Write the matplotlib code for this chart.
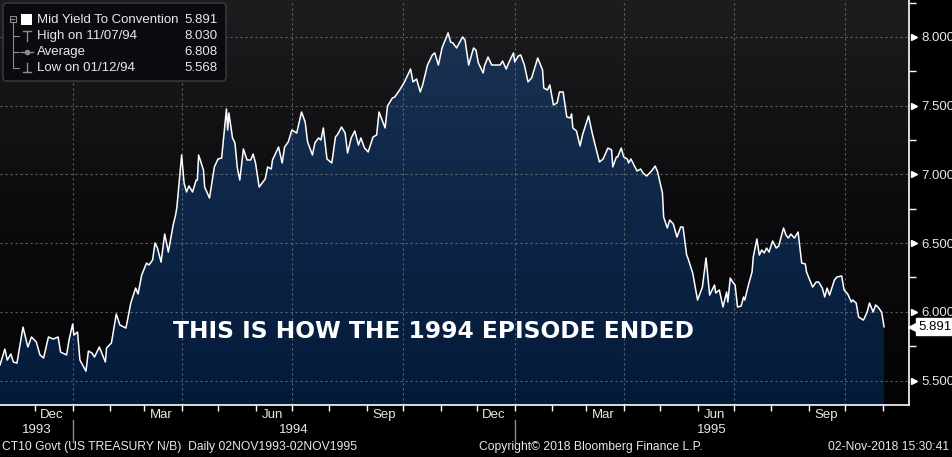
import numpy as np
import pandas as pd
import matplotlib
matplotlib.use("Agg")
import matplotlib.pyplot as plt
import matplotlib.dates as mdates
from matplotlib import font_manager
from matplotlib.patches import FancyBboxPatch, Polygon, Rectangle
from matplotlib.colors import LinearSegmentedColormap

'''
  CT10 Govt daily yield, 02NOV1993-02NOV1995, Bloomberg style
  values read off the screenshot (day = calendar days after 02NOV1993)
'''
START = pd.Timestamp("1993-11-02")

day_offset = [
    0, 4, 6, 9, 11, 14, 19, 23, 26, 30, 33, 36, 40, 44, 48, 50, 55, 57, 60, 61,
    64, 66, 71, 73, 76, 78, 82, 87, 88, 92, 96, 99, 104, 108, 112, 114, 117, 121, 123, 126,
    128, 130, 133, 136, 139, 143, 145, 146, 150, 152, 154, 156, 159, 162, 163, 164, 168, 169, 173, 177,
    180, 183, 187, 188, 189, 192, 194, 196, 198, 201, 204, 207, 209, 211, 214, 219, 221, 224, 225, 230,
    233, 235, 238, 241, 245, 249, 252, 254, 258, 260, 263, 265, 267, 270, 274, 277, 279, 282, 285, 287,
    290, 293, 296, 298, 301, 304, 308, 311, 313, 318, 320, 324, 326, 330, 334, 339, 341, 344, 347, 349,
    353, 357, 359, 362, 365, 370, 372, 374, 377, 382, 384, 387, 391, 393, 395, 399, 400, 403, 406, 413,
    415, 418, 420, 424, 425, 428, 430, 433, 436, 439, 444, 448, 449, 452, 454, 457, 460, 462, 465, 468,
    471, 472, 473, 476, 479, 481, 486, 489, 491, 495, 498, 502, 505, 506, 509, 510, 513, 515, 518, 519,
    521, 526, 529, 531, 534, 538, 541, 543, 547, 548, 551, 553, 556, 559, 562, 564, 567, 568, 572, 576,
    580, 583, 586, 590, 591, 594, 597, 600, 601, 603, 605, 607, 609, 612, 614, 615, 618, 621, 622, 625,
    627, 629, 631, 633, 635, 638, 641, 643, 647, 649, 651, 653, 656, 659, 662, 665, 666, 671, 674, 676,
    679, 681, 683, 685, 689, 691, 695, 697, 700, 703, 704, 707, 709, 713, 716, 718, 721, 723, 725, 728,
    730,
]
yield_pct = [
    5.613, 5.729, 5.649, 5.693, 5.635, 5.627, 5.889, 5.744, 5.817, 5.780, 5.686, 5.664, 5.817, 5.802, 5.817, 5.707, 5.686, 5.795, 5.911, 5.831,
    5.853, 5.649, 5.568, 5.715, 5.700, 5.671, 5.744, 5.635, 5.737, 5.773, 5.984, 5.904, 5.882, 6.064, 6.173, 6.130, 6.268, 6.355, 6.341, 6.377,
    6.501, 6.464, 6.362, 6.566, 6.435, 6.632, 6.705, 6.756, 7.141, 6.937, 6.872, 6.916, 6.872, 6.959, 6.959, 7.141, 7.032, 6.908, 6.828, 7.054,
    7.112, 7.119, 7.476, 7.323, 7.447, 7.265, 7.229, 7.047, 6.959, 7.185, 7.105, 7.105, 7.148, 7.083, 6.908, 6.967, 7.054, 7.039, 7.105, 7.199,
    7.083, 7.199, 7.236, 7.323, 7.301, 7.454, 7.381, 7.236, 7.141, 7.229, 7.265, 7.250, 7.338, 7.112, 7.083, 7.272, 7.294, 7.345, 7.301, 7.156,
    7.265, 7.316, 7.214, 7.265, 7.192, 7.163, 7.272, 7.287, 7.454, 7.338, 7.498, 7.556, 7.563, 7.614, 7.673, 7.767, 7.673, 7.694, 7.600, 7.651,
    7.796, 7.869, 7.884, 7.796, 7.920, 8.030, 7.964, 7.956, 7.920, 8.000, 7.978, 7.796, 7.920, 7.905, 7.811, 7.738, 7.789, 7.854, 7.796, 7.796,
    7.825, 7.767, 7.811, 7.884, 7.818, 7.862, 7.869, 7.796, 7.673, 7.702, 7.847, 7.760, 7.629, 7.614, 7.651, 7.505, 7.520, 7.600, 7.600, 7.418,
    7.411, 7.440, 7.338, 7.316, 7.207, 7.287, 7.425, 7.301, 7.229, 7.090, 7.112, 7.192, 7.178, 7.054, 7.127, 7.127, 7.192, 7.127, 7.112, 7.083,
    7.112, 7.025, 7.039, 7.010, 6.988, 7.025, 7.061, 7.018, 6.865, 6.690, 6.610, 6.668, 6.639, 6.544, 6.617, 6.617, 6.413, 6.392, 6.282, 6.086,
    6.180, 6.392, 6.122, 6.195, 6.137, 6.159, 6.035, 6.144, 6.071, 6.246, 6.217, 6.195, 6.035, 6.042, 6.108, 6.086, 6.195, 6.290, 6.399, 6.530,
    6.413, 6.450, 6.428, 6.464, 6.435, 6.515, 6.464, 6.479, 6.610, 6.559, 6.537, 6.566, 6.537, 6.581, 6.355, 6.348, 6.290, 6.180, 6.217, 6.217,
    6.173, 6.108, 6.173, 6.122, 6.231, 6.253, 6.261, 6.159, 6.130, 6.071, 6.086, 6.064, 5.962, 5.940, 5.998, 6.064, 5.998, 6.050, 6.035, 5.998,
    5.891,
]

legend_rows = ["Mid Yield To Convention", "High on 11/07/94", "Average", "Low on 01/12/94"]
legend_values = ["5.891", "8.030", "6.808", "5.568"]
y_ticks = [5.5, 6.0, 6.5, 7.0, 7.5, 8.0]
y_minor = [5.75, 6.25, 6.75, 7.25, 7.75, 8.25]
last_value = 5.891
headline = "THIS IS HOW THE 1994 EPISODE ENDED"
footer_left = "CT10 Govt (US TREASURY N/B)  Daily 02NOV1993-02NOV1995"
footer_mid = "Copyright\u00a9 2018 Bloomberg Finance L.P."
footer_right = "02-Nov-2018 15:30:41"

avail = {f.name for f in font_manager.fontManager.ttflist}
FONT = "Liberation Sans" if "Liberation Sans" in avail else "DejaVu Sans"
TXT = "#e8e8e8"
FS = 9.5

dates = START + pd.to_timedelta(day_offset, unit="D")
x = mdates.date2num(dates)
y = np.array(yield_pct)

x0 = mdates.date2num(START)
x1 = x0 + 750.6
ylo, yhi = 5.322, 8.269

fig = plt.figure(figsize=(9.53, 4.57), dpi=100, facecolor="black")
ax = fig.add_axes([0, 52 / 457, 909 / 953, 405 / 457])
ax.set_facecolor("black")

# background + area gradients
grad = np.linspace(0, 1, 256).reshape(-1, 1)
bg_cmap = LinearSegmentedColormap.from_list("bg", ["#040406", "#0c0c0f", "#1d1d20"])
ax.imshow(grad, extent=[x0, x1, ylo, yhi], origin="lower", aspect="auto",
          cmap=bg_cmap, zorder=0, interpolation="bicubic")
verts = [(x[0], ylo)] + list(zip(x, y)) + [(x[-1], ylo)]
area = Polygon(verts, closed=True, facecolor="none", edgecolor="none", transform=ax.transData)
ax.add_patch(area)
fill_cmap = LinearSegmentedColormap.from_list("fill", ["#041a39", "#0e2748", "#1b3454"])
im = ax.imshow(grad, extent=[x0, x1, ylo, yhi], origin="lower", aspect="auto",
               cmap=fill_cmap, zorder=1, interpolation="bicubic")
im.set_clip_path(area)

# dashed grid
grid_kw = dict(color="#7a7a7a", lw=0.8, alpha=0.75, dashes=(2, 2.5), zorder=2)
for v in y_ticks:
    ax.axhline(v, **grid_kw)
for d in pd.date_range("1994-01-01", "1995-10-01", freq="QS"):
    ax.axvline(mdates.date2num(d), **grid_kw)

ax.plot(x, y, color="white", lw=1.1, zorder=3)

# spines
for s in ["top", "left"]:
    ax.spines[s].set_visible(False)
for s in ["right", "bottom"]:
    ax.spines[s].set_color("white")
    ax.spines[s].set_linewidth(1.2)

# y axis on the right
ax.yaxis.tick_right()
ax.set_yticks(y_ticks)
ax.set_yticklabels([f"{v:.3f}" for v in y_ticks], color=TXT, fontsize=FS, family=FONT)
ax.set_yticks(y_minor, minor=True)
ax.tick_params(axis="y", which="major", length=0, pad=9)
ax.tick_params(axis="y", which="minor", length=5, width=1, color="white", direction="out")

# x axis: monthly ticks, quarter-month labels
ax.xaxis.set_major_locator(mdates.MonthLocator())
ax.xaxis.set_major_formatter(plt.NullFormatter())
ax.xaxis.set_minor_locator(mdates.MonthLocator(bymonth=[3, 6, 9, 12], bymonthday=15))
ax.xaxis.set_minor_formatter(mdates.DateFormatter("%b"))
ax.tick_params(axis="x", which="major", length=4, width=1, color="white", direction="out")
ax.tick_params(axis="x", which="minor", length=0, pad=3, labelcolor=TXT, labelsize=FS)
for lab in ax.get_xticklabels(minor=True):
    lab.set_family(FONT)

# limits last, so tick setting cannot widen them
ax.set_xlim(x0, x1)
ax.set_ylim(ylo, yhi)

ytr = ax.get_yaxis_transform()
ax.plot([1 + 5 / 909] * len(y_ticks), y_ticks, ls="none", marker=">", ms=5,
        color="white", transform=ytr, clip_on=False, zorder=5)

# last value flag
ax.plot([1 + 5 / 909], [last_value], ls="none", marker="<", ms=9, color="white",
        transform=ytr, clip_on=False, zorder=5)
ax.text(1 + 9 / 909, last_value, f"{last_value:.3f}", transform=ytr, ha="left", va="center",
        fontsize=FS, family=FONT, color="black", zorder=6,
        bbox=dict(boxstyle="square,pad=0.18", fc="white", ec="white"))

# year row
xtr = ax.get_xaxis_transform()
for yr in [1993, 1994, 1995]:
    a = max(mdates.date2num(pd.Timestamp(f"{yr}-01-01")), x0)
    b = min(mdates.date2num(pd.Timestamp(f"{yr + 1}-01-01")), x1)
    ax.text((a + b) / 2, -25 / 405, str(yr), transform=xtr, ha="center", va="center",
            fontsize=FS, family=FONT, color=TXT)
    if yr > 1993:
        ax.plot([a, a], [-15 / 405, -37 / 405], color="#8a8a8a", lw=1,
                transform=xtr, clip_on=False)

# overlay in pixel units for the legend block and captions
ov = fig.add_axes([0, 0, 1, 1], zorder=10)
ov.set_xlim(0, 953)
ov.set_ylim(457, 0)
ov.axis("off")
ov.patch.set_alpha(0)

ov.add_patch(FancyBboxPatch((3, 3), 223, 78, boxstyle="round,pad=0,rounding_size=4",
                            fc="#0b0b0f", ec="#3e3e42", lw=1))
g = "#8c8c8c"
ov.add_patch(Rectangle((10, 15.5), 6, 6, fc="none", ec=g, lw=0.8))
ov.plot([11.5, 14.5], [18.5, 18.5], color=g, lw=0.8)
ov.plot([13, 13], [21.5, 68], color=g, lw=0.8)
for ry in [36, 52, 68]:
    ov.plot([13, 19], [ry, ry], color=g, lw=0.8)
ov.add_patch(Rectangle((21, 14), 11, 11, fc="white", ec="none"))
ov.plot([23, 31], [31, 31], color=g, lw=1)
ov.plot([27, 27], [31, 41], color=g, lw=1)
ov.plot([21, 33], [52, 52], color=g, lw=1)
ov.plot([27], [52], marker="o", ms=3, color=g)
ov.plot([27, 27], [63, 72], color=g, lw=1)
ov.plot([23, 31], [72, 72], color=g, lw=1)
for i, (name, val) in enumerate(zip(legend_rows, legend_values)):
    ry = 20 + 16 * i
    ov.text(37, ry, name, ha="left", va="center", fontsize=FS, family=FONT, color=TXT)
    ov.text(218, ry, val, ha="right", va="center", fontsize=FS, family=FONT, color=TXT)

ov.text(434, 331, headline, ha="center", va="center", fontsize=16.8, fontweight="bold",
        family="DejaVu Sans", color="white")

ov.text(2, 447, footer_left, ha="left", va="center", fontsize=8.7, family=FONT, color=TXT)
ov.text(591, 447, footer_mid, ha="center", va="center", fontsize=8.7, family=FONT, color=TXT)
ov.text(949, 447, footer_right, ha="right", va="center", fontsize=8.7, family=FONT, color=TXT)

fig.savefig("out.png", dpi=100, facecolor="black")
